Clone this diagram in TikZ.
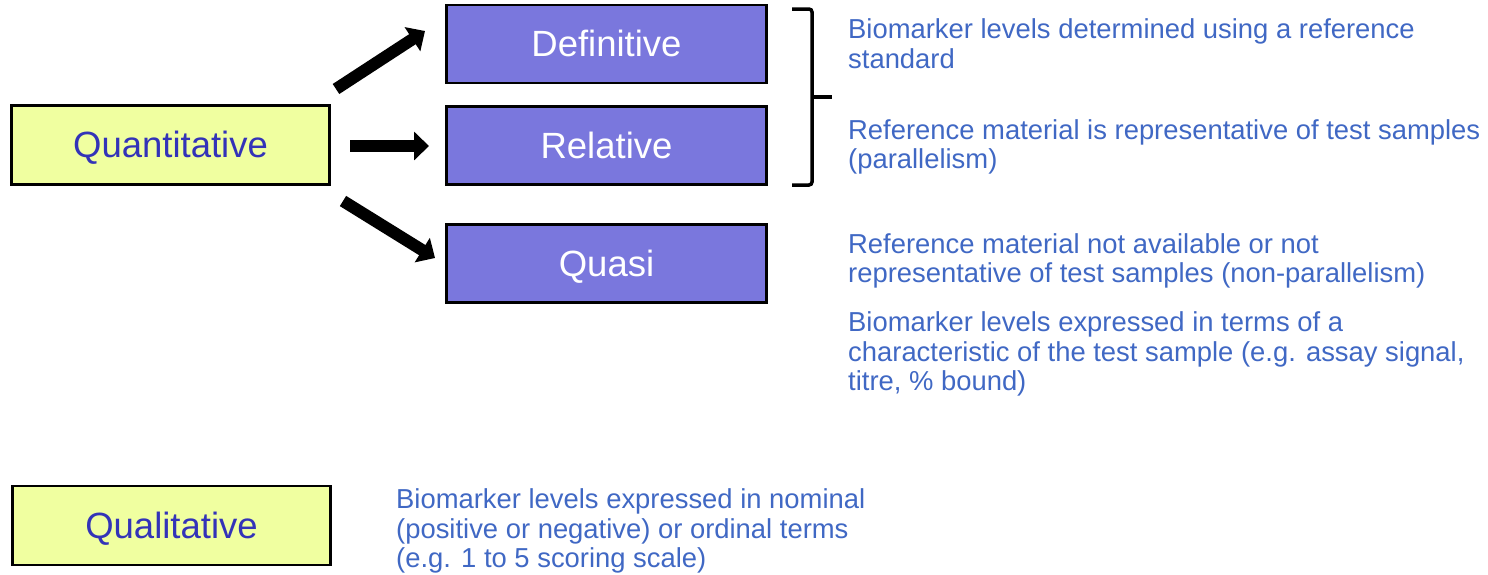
\documentclass[tikz,border=0pt]{standalone}
\usepackage{fontspec}
\setmainfont{Liberation Sans}
\usetikzlibrary{arrows.meta}
\definecolor{boxyellow}{HTML}{F0FFA0}
\definecolor{boxviolet}{HTML}{7A77DD}
\definecolor{labelblue}{HTML}{3333B8}
\definecolor{noteblue}{HTML}{4068C4}
\begin{document}
\begin{tikzpicture}[x=1pt,y=-1pt,
  kindbox/.style={draw=black,line width=2.5pt,fill=boxyellow,text=labelblue,
    minimum width=318pt,minimum height=79pt,inner sep=0pt,
    text height=25pt,text depth=0pt,
    font=\fontsize{36.5}{40}\selectfont},
  methodbox/.style={draw=black,line width=2.5pt,fill=boxviolet,text=white,
    minimum width=320pt,minimum height=78pt,inner sep=0pt,
    text height=25pt,text depth=0pt,
    font=\fontsize{36.5}{40}\selectfont},
  note/.style={anchor=west,align=left,inner sep=0pt,text=noteblue,
    font=\fontsize{27.4}{29.6}\selectfont},
  bigarrow/.style={line width=12pt,-{Triangle[length=15pt,width=28pt]}},
  bracket/.style={line width=3.5pt,rounded corners=3pt}]
\useasboundingbox (0,0) rectangle (1488,574);

% category boxes
\node[kindbox] (quant) at (170.5,145) {Quantitative};
\node[kindbox] (qual) at (171.5,525.5) {Qualitative};

% method boxes
\node[methodbox] (def) at (606.5,44) {Definitive};
\node[methodbox] (rel) at (606.5,145.5) {Relative};
\node[methodbox] (quasi) at (606.5,263.5) {Quasi};

% arrow end points
\coordinate (a1s) at (336,89);
\coordinate (a1e) at (425,31);
\coordinate (a2s) at (350,146);
\coordinate (a2e) at (429,146);
\coordinate (a3s) at (343,201);
\coordinate (a3e) at (435,258);
\draw[bigarrow] (a1s) -- (a1e);
\draw[bigarrow] (a2s) -- (a2e);
\draw[bigarrow] (a3s) -- (a3e);

% bracket grouping definitive and relative
\coordinate (bt) at (792,9);
\coordinate (bm) at (812,97);
\coordinate (bb) at (792,185);
\coordinate (btip) at (832,97);
\draw[bracket] (bt) -- (bt -| bm) -- (bm) -- (bb -| bm) -- (bb);
\draw[line width=3.5pt] (bm) -- (btip);

% descriptions
\node[note] (n1) at (848,44) {Biomarker levels determined using a reference\\standard};
\node[note] (n2) at (848,147) {Reference material is representative of test samples\\(parallelism)};
\node[note] (n3) at (848,261) {Reference material not available or not\\representative of test samples (non-parallelism)};
\node[note] (n4) at (848,354) {Biomarker levels expressed in terms of a\\characteristic of the test sample (e.g. assay signal,\\titre, \% bound)};
\node[note] (n5) at (396,531) {Biomarker levels expressed in nominal\\(positive or negative) or ordinal terms\\(e.g. 1 to 5 scoring scale)};
\end{tikzpicture}
\end{document}
